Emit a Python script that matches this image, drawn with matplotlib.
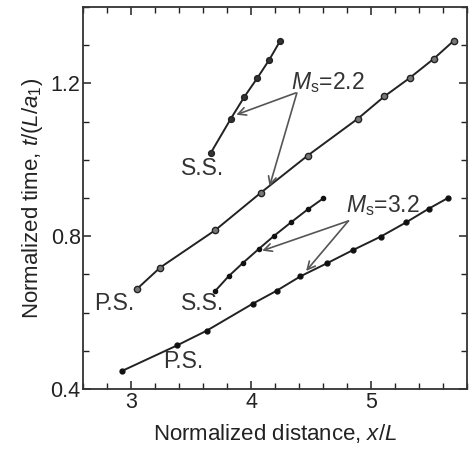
import matplotlib
matplotlib.use("Agg")
import matplotlib.pyplot as plt

plt.rcParams['font.family'] = ['Liberation Sans', 'DejaVu Sans']
plt.rcParams['mathtext.fontset'] = 'custom'
plt.rcParams['mathtext.rm'] = 'Liberation Sans'
plt.rcParams['mathtext.it'] = 'Liberation Sans:italic'

# Ms = 2.2
ps22_x = [3.05, 3.24, 3.70, 4.08, 4.47, 4.89, 5.11, 5.32, 5.52, 5.69]
ps22_y = [0.663, 0.718, 0.816, 0.914, 1.011, 1.108, 1.166, 1.214, 1.264, 1.312]
ss22_x = [3.66, 3.83, 3.94, 4.05, 4.15, 4.24]
ss22_y = [1.017, 1.108, 1.164, 1.214, 1.262, 1.311]
# Ms = 3.2
ps32_x = [2.92, 3.38, 3.63, 4.01, 4.21, 4.41, 4.63, 4.85, 5.08, 5.29, 5.48, 5.64]
ps32_y = [0.447, 0.514, 0.553, 0.623, 0.657, 0.695, 0.729, 0.764, 0.799, 0.836, 0.872, 0.900]
ss32_x = [3.70, 3.81, 3.93, 4.06, 4.19, 4.33, 4.47, 4.60]
ss32_y = [0.657, 0.695, 0.730, 0.766, 0.801, 0.836, 0.870, 0.899]

x_ticks = [3, 4, 5]
y_ticks = [0.4, 0.8, 1.2]
y_tick_labels = ['0.4', '0.8', '1.2']

fig = plt.figure(figsize=(4.69, 4.51), dpi=100)
ax = fig.add_axes([0.178, 0.1375, 0.818, 0.847])

lc = '#222222'
ax.plot(ps22_x, ps22_y, '-o', color=lc, lw=1.4, ms=4.5, mfc='#777777', mec='#222222', mew=1.0)
ax.plot(ss22_x, ss22_y, '-o', color=lc, lw=1.4, ms=4.2, mfc='#333333', mec='#222222', mew=1.0)
ax.plot(ps32_x, ps32_y, '-o', color=lc, lw=1.4, ms=3.5, mfc='#111111', mec='#111111')
ax.plot(ss32_x, ss32_y, '-o', color=lc, lw=1.4, ms=3.0, mfc='#111111', mec='#111111')

ax.set_xlim(2.6, 5.8)
ax.set_ylim(0.4, 1.4)
ax.set_xticks(x_ticks)
ax.set_yticks(y_ticks)
ax.set_yticklabels(y_tick_labels)
ax.set_xticks([2.6 + 0.2 * i for i in range(17)], minor=True)
ax.set_yticks([0.4 + 0.1 * i for i in range(11)], minor=True)
ax.tick_params(which='both', direction='in', top=True, right=True, labelsize=15.5, colors='#222222', pad=2)
ax.tick_params(which='major', length=6, width=1.1)
ax.tick_params(which='minor', length=4, width=1.0)
for s in ax.spines.values():
    s.set_linewidth(1.3)
    s.set_color('#333333')

ax.set_xlabel('Normalized distance, $x/L$', fontsize=16, color='#222222', labelpad=7)
ax.set_ylabel('Normalized time, $t/(L/a_1)$', fontsize=16, color='#222222', labelpad=4)

tc = '#333333'
fs = 16.5
ax.text(4.33, 1.202, '$M_\\mathrm{s}$=2.2', fontsize=fs, color=tc, va='center', ha='left')
ax.text(4.79, 0.879, '$M_\\mathrm{s}$=3.2', fontsize=fs, color=tc, va='center', ha='left')
ax.text(3.59, 0.977, 'S.S.', fontsize=fs, color=tc, va='center', ha='center')
ax.text(2.86, 0.625, 'P.S.', fontsize=fs, color=tc, va='center', ha='center')
ax.text(3.59, 0.625, 'S.S.', fontsize=fs, color=tc, va='center', ha='center')
ax.text(3.435, 0.473, 'P.S.', fontsize=fs, color=tc, va='center', ha='center')

ap = dict(arrowstyle='->', color='#555555', lw=1.2, shrinkA=0, shrinkB=0, mutation_scale=14)
ax.annotate('', xy=(3.875, 1.118), xytext=(4.37, 1.175), arrowprops=ap)
ax.annotate('', xy=(4.152, 0.931), xytext=(4.38, 1.175), arrowprops=ap)
ax.annotate('', xy=(4.091, 0.762), xytext=(4.81, 0.840), arrowprops=ap)
ax.annotate('', xy=(4.457, 0.709), xytext=(4.81, 0.840), arrowprops=ap)

fig.savefig('out.png', dpi=100)
